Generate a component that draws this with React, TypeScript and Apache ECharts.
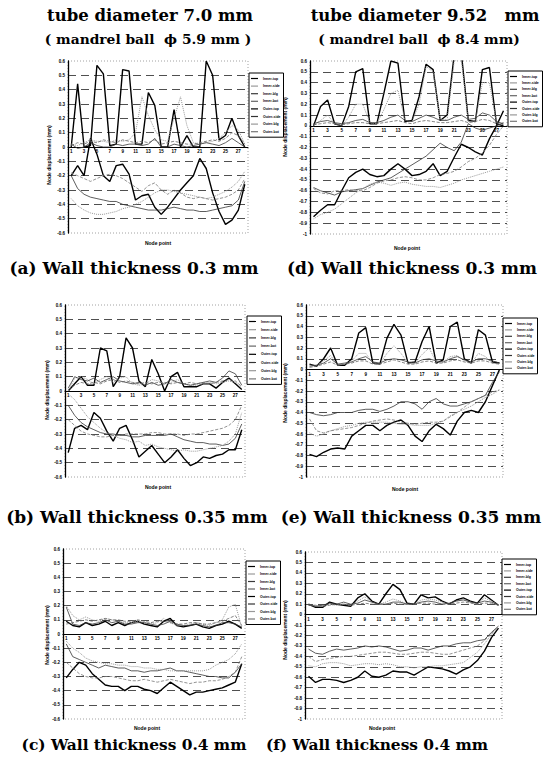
import React, { useEffect, useRef } from 'react';
import * as echarts from 'echarts';

// ---------- data ----------
const nodePoints = ['1', '2', '3', '4', '5', '6', '7', '8', '9', '10', '11', '12', '13', '14', '15', '16', '17', '18', '19', '20', '21', '22', '23', '24', '25', '26', '27', '28'];
const seriesNames = ['Inner-top', 'Inner-side', 'Inner-blg', 'Inner-bot', 'Outer-top', 'Outer-side', 'Outer-blg', 'Outer-bot'];

// (a) tube 7.0 mm, wall 0.3 mm
const a1 = [0, 0.44, 0.0, 0.01, 0.57, 0.51, 0.01, 0.02, 0.54, 0.53, 0.02, 0.02, 0.38, 0.29, 0.0, 0.0, 0.26, 0.0, 0.08, 0.0, 0.0, 0.6, 0.5, 0.05, 0.08, 0.2, 0.08, 0.0];
const a2 = [0.02, 0.01, 0.03, 0.05, 0.04, 0.04, 0.03, 0.05, 0.04, 0.05, 0.1, 0.35, 0.22, 0.12, 0.05, 0.04, 0.2, 0.35, 0.15, 0.03, 0.02, 0.03, 0.04, 0.06, 0.1, 0.15, 0.12, 0.02];
const a3 = [0.02, -0.01, 0.0, 0.03, 0.01, 0.0, 0.0, 0.02, 0.01, 0.02, 0.02, 0.01, 0.02, 0.06, 0.0, 0.0, 0.02, 0.01, 0.0, 0.01, 0.02, 0.03, 0.02, 0.01, 0.03, 0.06, 0.03, 0.0];
const a4 = [0.01, 0.03, 0.02, 0.04, 0.03, 0.05, 0.04, 0.03, 0.05, 0.04, 0.03, 0.04, 0.03, 0.05, 0.02, 0.03, 0.04, 0.03, 0.02, 0.02, 0.03, 0.04, 0.05, 0.04, 0.06, 0.1, 0.08, 0.02];
const a5 = [-0.2, -0.13, -0.2, 0.06, -0.05, -0.2, -0.24, -0.13, -0.12, -0.19, -0.37, -0.34, -0.33, -0.42, -0.47, -0.42, -0.36, -0.3, -0.25, -0.2, -0.08, -0.15, -0.32, -0.45, -0.54, -0.51, -0.44, -0.26];
const a6 = [-0.2, -0.29, -0.33, -0.35, -0.36, -0.37, -0.38, -0.38, -0.4, -0.41, -0.42, -0.43, -0.44, -0.44, -0.44, -0.43, -0.42, -0.43, -0.44, -0.44, -0.45, -0.45, -0.44, -0.43, -0.42, -0.41, -0.37, -0.24];
const a7 = [-0.36, -0.41, -0.44, -0.46, -0.47, -0.47, -0.46, -0.45, -0.43, -0.42, -0.4, -0.38, -0.35, -0.32, -0.3, -0.3, -0.31, -0.32, -0.33, -0.34, -0.35, -0.36, -0.35, -0.33, -0.31, -0.28, -0.24, -0.17];
const a8 = [-0.18, -0.2, -0.22, -0.24, -0.22, -0.2, -0.19, -0.2, -0.22, -0.25, -0.28, -0.31, -0.27, -0.25, -0.3, -0.33, -0.3, -0.32, -0.35, -0.36, -0.35, -0.36, -0.37, -0.36, -0.35, -0.33, -0.3, -0.22];

// (d) tube 9.52 mm, wall 0.3 mm
const d1 = [0.0, 0.18, 0.24, 0.02, 0.0, 0.18, 0.5, 0.53, 0.02, 0.02, 0.3, 0.6, 0.58, 0.04, 0.05, 0.27, 0.57, 0.52, 0.05, 0.1, 0.66, 0.68, 0.05, 0.04, 0.52, 0.54, 0.02, 0.0];
const d2 = [0.0, 0.05, 0.1, 0.02, 0.0, 0.08, 0.2, 0.2, 0.03, 0.02, 0.15, 0.3, 0.33, 0.05, 0.04, 0.2, 0.55, 0.5, 0.06, 0.06, 0.6, 0.62, 0.04, 0.04, 0.4, 0.4, 0.03, 0.01];
const d3 = [0.02, 0.04, 0.05, 0.03, 0.02, 0.03, 0.05, 0.06, 0.03, 0.03, 0.05, 0.08, 0.1, 0.05, 0.04, 0.07, 0.1, 0.08, 0.05, 0.05, 0.08, 0.1, 0.06, 0.07, 0.12, 0.1, 0.04, 0.02];
const d4 = [0.01, 0.02, 0.03, 0.02, 0.01, 0.02, 0.03, 0.03, 0.02, 0.02, 0.03, 0.04, 0.05, 0.03, 0.02, 0.04, 0.05, 0.04, 0.03, 0.03, 0.04, 0.05, 0.03, 0.04, 0.06, 0.05, 0.02, 0.01];
const d5 = [-0.84, -0.78, -0.73, -0.73, -0.6, -0.48, -0.43, -0.4, -0.45, -0.47, -0.46, -0.4, -0.35, -0.4, -0.46, -0.45, -0.42, -0.35, -0.46, -0.42, -0.29, -0.17, -0.2, -0.24, -0.27, -0.12, 0.0, 0.14];
const d6 = [-0.57, -0.6, -0.62, -0.64, -0.61, -0.6, -0.59, -0.58, -0.55, -0.52, -0.5, -0.48, -0.44, -0.4, -0.36, -0.32, -0.28, -0.22, -0.16, -0.2, -0.23, -0.15, 0.02, -0.02, -0.04, -0.02, 0.0, 0.03];
const d7 = [-0.86, -0.82, -0.8, -0.77, -0.72, -0.67, -0.62, -0.58, -0.54, -0.52, -0.53, -0.55, -0.53, -0.52, -0.54, -0.55, -0.56, -0.56, -0.57, -0.55, -0.53, -0.5, -0.48, -0.46, -0.44, -0.42, -0.4, -0.38];
const d8 = [-0.58, -0.62, -0.63, -0.6, -0.6, -0.59, -0.6, -0.6, -0.57, -0.53, -0.51, -0.5, -0.48, -0.47, -0.48, -0.5, -0.5, -0.48, -0.45, -0.44, -0.42, -0.38, -0.33, -0.3, -0.25, -0.18, -0.08, 0.0];

// (b) tube 7.0 mm, wall 0.35 mm
const b1 = [0.0, 0.05, 0.1, 0.04, 0.04, 0.3, 0.28, 0.03, 0.1, 0.37, 0.3, 0.07, 0.03, 0.22, 0.12, 0.0, 0.1, 0.13, 0.03, 0.03, 0.03, 0.05, 0.05, 0.02, 0.06, 0.09, 0.05, 0.01];
const b2 = [0.0, 0.09, 0.1, 0.08, 0.05, 0.08, 0.1, 0.06, 0.09, 0.1, 0.05, 0.04, 0.05, 0.08, 0.07, 0.05, 0.06, 0.08, 0.05, 0.04, 0.04, 0.05, 0.06, 0.05, 0.06, 0.07, 0.06, 0.02];
const b3 = [0.02, 0.1, 0.08, 0.07, 0.09, 0.06, 0.08, 0.1, 0.07, 0.06, 0.05, 0.06, 0.04, 0.06, 0.04, 0.05, 0.08, 0.06, 0.05, 0.04, 0.05, 0.06, 0.07, 0.06, 0.09, 0.14, 0.12, 0.04];
const b4 = [0.01, 0.04, 0.06, 0.05, 0.06, 0.05, 0.07, 0.08, 0.06, 0.07, 0.06, 0.05, 0.06, 0.05, 0.06, 0.06, 0.05, 0.06, 0.05, 0.06, 0.05, 0.06, 0.05, 0.06, 0.07, 0.08, 0.07, 0.03];
const b5 = [-0.43, -0.26, -0.24, -0.27, -0.15, -0.19, -0.28, -0.35, -0.26, -0.24, -0.34, -0.46, -0.42, -0.38, -0.44, -0.5, -0.46, -0.41, -0.47, -0.52, -0.5, -0.46, -0.47, -0.45, -0.44, -0.41, -0.41, -0.27];
const b6 = [-0.1, -0.17, -0.22, -0.25, -0.27, -0.29, -0.3, -0.3, -0.31, -0.31, -0.32, -0.32, -0.31, -0.31, -0.31, -0.31, -0.3, -0.32, -0.34, -0.35, -0.36, -0.36, -0.37, -0.37, -0.38, -0.37, -0.33, -0.23];
const b7 = [-0.02, -0.06, -0.12, -0.18, -0.22, -0.26, -0.29, -0.31, -0.33, -0.34, -0.36, -0.35, -0.38, -0.37, -0.39, -0.4, -0.41, -0.42, -0.41, -0.42, -0.42, -0.41, -0.4, -0.39, -0.38, -0.35, -0.3, -0.15];
const b8 = [-0.2, -0.24, -0.28, -0.3, -0.31, -0.32, -0.32, -0.31, -0.31, -0.3, -0.3, -0.3, -0.3, -0.29, -0.29, -0.3, -0.3, -0.3, -0.31, -0.3, -0.3, -0.29, -0.28, -0.27, -0.26, -0.24, -0.2, -0.1];

// (e) tube 9.52 mm, wall 0.35 mm
const e1 = [0.05, 0.03, 0.1, 0.2, 0.04, 0.04, 0.1, 0.34, 0.39, 0.06, 0.05, 0.29, 0.42, 0.32, 0.06, 0.07, 0.26, 0.4, 0.06, 0.09, 0.4, 0.44, 0.1, 0.06, 0.37, 0.32, 0.07, 0.06];
const e2 = [0.04, 0.04, 0.08, 0.13, 0.04, 0.05, 0.08, 0.15, 0.15, 0.06, 0.05, 0.15, 0.22, 0.15, 0.06, 0.06, 0.14, 0.2, 0.07, 0.07, 0.12, 0.13, 0.08, 0.06, 0.15, 0.12, 0.06, 0.05];
const e3 = [0.03, 0.04, 0.06, 0.1, 0.05, 0.06, 0.07, 0.1, 0.12, 0.07, 0.06, 0.09, 0.1, 0.09, 0.07, 0.06, 0.09, 0.1, 0.08, 0.07, 0.1, 0.12, 0.09, 0.07, 0.1, 0.1, 0.08, 0.06];
const e4 = [0.02, 0.03, 0.05, 0.07, 0.04, 0.05, 0.06, 0.08, 0.08, 0.05, 0.05, 0.07, 0.09, 0.07, 0.05, 0.05, 0.07, 0.08, 0.06, 0.06, 0.08, 0.09, 0.07, 0.06, 0.08, 0.08, 0.06, 0.05];
const e5 = [-0.79, -0.81, -0.77, -0.74, -0.73, -0.74, -0.62, -0.57, -0.52, -0.52, -0.57, -0.52, -0.49, -0.47, -0.52, -0.62, -0.67, -0.57, -0.51, -0.55, -0.61, -0.48, -0.4, -0.38, -0.4, -0.3, -0.15, 0.0];
const e6 = [-0.4, -0.42, -0.43, -0.42, -0.4, -0.4, -0.4, -0.38, -0.37, -0.37, -0.39, -0.37, -0.34, -0.3, -0.3, -0.32, -0.37, -0.3, -0.27, -0.32, -0.34, -0.34, -0.32, -0.3, -0.27, -0.24, -0.12, -0.02];
const e7 = [-0.59, -0.62, -0.6, -0.57, -0.55, -0.53, -0.52, -0.5, -0.49, -0.49, -0.49, -0.49, -0.5, -0.51, -0.51, -0.52, -0.52, -0.52, -0.5, -0.48, -0.43, -0.4, -0.37, -0.34, -0.3, -0.26, -0.23, -0.19];
const e8 = [-0.46, -0.57, -0.59, -0.57, -0.56, -0.55, -0.54, -0.52, -0.5, -0.48, -0.47, -0.46, -0.47, -0.49, -0.5, -0.51, -0.5, -0.49, -0.49, -0.48, -0.44, -0.4, -0.35, -0.3, -0.27, -0.24, -0.21, -0.19];

// (c) tube 7.0 mm, wall 0.4 mm
const c1 = [0.09, 0.06, 0.05, 0.08, 0.06, 0.07, 0.09, 0.06, 0.08, 0.06, 0.08, 0.09, 0.07, 0.06, 0.05, 0.09, 0.11, 0.06, 0.05, 0.06, 0.07, 0.05, 0.04, 0.06, 0.07, 0.09, 0.07, 0.04];
const c2 = [0.2, 0.13, 0.1, 0.12, 0.1, 0.09, 0.11, 0.1, 0.09, 0.08, 0.08, 0.09, 0.08, 0.07, 0.08, 0.11, 0.08, 0.06, 0.06, 0.07, 0.08, 0.07, 0.06, 0.08, 0.1, 0.19, 0.21, 0.05];
const c3 = [0.19, 0.07, 0.06, 0.08, 0.07, 0.08, 0.1, 0.08, 0.09, 0.07, 0.07, 0.08, 0.08, 0.07, 0.06, 0.07, 0.09, 0.07, 0.06, 0.06, 0.07, 0.06, 0.05, 0.06, 0.08, 0.08, 0.07, 0.05];
const c4 = [0.07, 0.08, 0.09, 0.1, 0.09, 0.1, 0.11, 0.1, 0.1, 0.09, 0.09, 0.1, 0.09, 0.08, 0.09, 0.09, 0.08, 0.07, 0.07, 0.08, 0.08, 0.07, 0.07, 0.08, 0.09, 0.11, 0.13, 0.06];
const c5 = [-0.31, -0.25, -0.2, -0.22, -0.28, -0.32, -0.36, -0.37, -0.37, -0.4, -0.37, -0.37, -0.39, -0.4, -0.42, -0.38, -0.34, -0.37, -0.4, -0.43, -0.41, -0.41, -0.4, -0.39, -0.38, -0.36, -0.34, -0.21];
const c6 = [-0.07, -0.16, -0.18, -0.2, -0.22, -0.24, -0.22, -0.23, -0.24, -0.24, -0.26, -0.26, -0.27, -0.26, -0.26, -0.25, -0.24, -0.26, -0.26, -0.27, -0.28, -0.29, -0.3, -0.3, -0.31, -0.31, -0.27, -0.21];
const c7 = [-0.05, -0.1, -0.13, -0.17, -0.19, -0.2, -0.21, -0.21, -0.22, -0.22, -0.23, -0.23, -0.24, -0.24, -0.25, -0.25, -0.26, -0.26, -0.26, -0.26, -0.26, -0.26, -0.25, -0.22, -0.2, -0.18, -0.14, -0.07];
const c8 = [-0.2, -0.24, -0.28, -0.3, -0.31, -0.31, -0.3, -0.3, -0.31, -0.32, -0.33, -0.33, -0.32, -0.33, -0.34, -0.33, -0.32, -0.33, -0.34, -0.35, -0.34, -0.34, -0.33, -0.33, -0.32, -0.3, -0.27, -0.16];

// (f) tube 9.52 mm, wall 0.4 mm
const f1 = [0.1, 0.07, 0.07, 0.12, 0.1, 0.09, 0.08, 0.16, 0.2, 0.13, 0.1, 0.2, 0.29, 0.24, 0.11, 0.1, 0.19, 0.16, 0.17, 0.13, 0.1, 0.14, 0.16, 0.13, 0.11, 0.19, 0.14, 0.09];
const f2 = [0.1, 0.08, 0.08, 0.1, 0.09, 0.1, 0.09, 0.13, 0.17, 0.12, 0.1, 0.12, 0.15, 0.13, 0.1, 0.1, 0.14, 0.15, 0.14, 0.12, 0.1, 0.13, 0.15, 0.12, 0.1, 0.16, 0.13, 0.09];
const f3 = [0.09, 0.08, 0.09, 0.11, 0.1, 0.12, 0.1, 0.11, 0.14, 0.12, 0.1, 0.1, 0.12, 0.12, 0.1, 0.1, 0.12, 0.13, 0.12, 0.1, 0.11, 0.13, 0.14, 0.12, 0.11, 0.13, 0.12, 0.09];
const f4 = [0.09, 0.09, 0.08, 0.09, 0.1, 0.1, 0.09, 0.1, 0.11, 0.1, 0.1, 0.1, 0.11, 0.1, 0.1, 0.1, 0.11, 0.11, 0.1, 0.1, 0.1, 0.11, 0.12, 0.11, 0.1, 0.11, 0.11, 0.09];
const f5 = [-0.59, -0.65, -0.62, -0.62, -0.63, -0.65, -0.63, -0.6, -0.54, -0.59, -0.6, -0.58, -0.54, -0.55, -0.55, -0.58, -0.54, -0.5, -0.51, -0.52, -0.54, -0.57, -0.53, -0.5, -0.44, -0.35, -0.22, -0.13];
const f6 = [-0.33, -0.37, -0.38, -0.35, -0.33, -0.34, -0.33, -0.32, -0.3, -0.31, -0.3, -0.31, -0.33, -0.35, -0.34, -0.32, -0.32, -0.34, -0.32, -0.3, -0.3, -0.28, -0.27, -0.27, -0.25, -0.24, -0.17, -0.11];
const f7 = [-0.49, -0.5, -0.47, -0.46, -0.46, -0.47, -0.49, -0.48, -0.47, -0.47, -0.48, -0.47, -0.48, -0.5, -0.5, -0.51, -0.5, -0.5, -0.49, -0.49, -0.48, -0.47, -0.46, -0.41, -0.36, -0.28, -0.19, -0.11];
const f8 = [-0.4, -0.45, -0.43, -0.42, -0.41, -0.4, -0.4, -0.39, -0.38, -0.37, -0.36, -0.36, -0.37, -0.38, -0.38, -0.37, -0.36, -0.36, -0.37, -0.38, -0.38, -0.36, -0.34, -0.32, -0.3, -0.25, -0.18, -0.12];

const headerLeft = ['tube diameter 7.0 mm', '( mandrel ball  ϕ 5.9 mm )'];
const headerRight = ['tube diameter 9.52   mm', '( mandrel ball  ϕ 8.4 mm)'];
const captions = ['(a) Wall thickness 0.3 mm', '(d) Wall thickness 0.3 mm', '(b) Wall thickness 0.35 mm', '(e) Wall thickness 0.35 mm', '(c) Wall thickness 0.4 mm', '(f) Wall thickness 0.4 mm'];
const yTitle = 'Node displacement (mm)';
const xTitle = 'Node point';

// ---------- layout ----------
const panels = [
  { data: [a1, a2, a3, a4, a5, a6, a7, a8], min: -0.6, max: 0.6, g: { left: 68, top: 61, width: 180, height: 172 }, lg: { left: 249, top: 73, gap: 2.6 }, yt: [49, 155], xt: [158, 243], cap: [134, 268, 17] },
  { data: [d1, d2, d3, d4, d5, d6, d7, d8], min: -1, max: 0.6, g: { left: 310, top: 61, width: 197, height: 173 }, lg: { left: 508, top: 71, gap: 1.4 }, yt: [285, 127], xt: [407, 248], cap: [412, 268, 17] },
  { data: [b1, b2, b3, b4, b5, b6, b7, b8], min: -0.6, max: 0.6, g: { left: 65, top: 305, width: 180, height: 172 }, lg: { left: 247, top: 316, gap: 3.2 }, yt: [47, 390], xt: [158, 487], cap: [137, 517, 17] },
  { data: [e1, e2, e3, e4, e5, e6, e7, e8], min: -1, max: 0.6, g: { left: 306, top: 305, width: 197, height: 172 }, lg: { left: 503, top: 318, gap: 1.4 }, yt: [285, 393], xt: [405, 489], cap: [411, 517, 17] },
  { data: [c1, c2, c3, c4, c5, c6, c7, c8], min: -0.6, max: 0.6, g: { left: 63, top: 549, width: 182, height: 170 }, lg: { left: 246, top: 561, gap: 2.5 }, yt: [47, 635], xt: [147, 728], cap: [134, 745, 15.4] },
  { data: [f1, f2, f3, f4, f5, f6, f7, f8], min: -1, max: 0.6, g: { left: 305, top: 552, width: 197, height: 167 }, lg: { left: 502, top: 559, gap: 1.4 }, yt: [285, 630], xt: [382, 728], cap: [377, 745, 15.4] },
];

const lineStyles = [
  { color: '#000', width: 1.4, type: 'solid' },
  { color: '#9a9a9a', width: 1, type: 'dotted' },
  { color: '#3a3a3a', width: 0.8, type: 'solid' },
  { color: '#666', width: 0.8, type: 'dashed' },
  { color: '#000', width: 1.4, type: 'solid' },
  { color: '#333', width: 0.8, type: 'solid' },
  { color: '#999', width: 1, type: 'dotted' },
  { color: '#777', width: 0.8, type: 'dashed' },
];

const SANS = 'Liberation Sans, Arial, sans-serif';
const SERIF = 'DejaVu Serif, serif';

export default function App() {
  const ref = useRef<HTMLDivElement>(null);
  useEffect(() => {
    if (!ref.current) return;
    const chart = echarts.init(ref.current, undefined, { renderer: 'svg' });
    const grid: any[] = [];
    const xAxis: any[] = [];
    const yAxis: any[] = [];
    const series: any[] = [];
    const legend: any[] = [];
    const graphic: any[] = [];

    const txt = (text: string, x: number, y: number, size: number, family: string, rot = 0) => ({
      type: 'text', x, y, rotation: rot, silent: true,
      style: { text, fontSize: size, fontWeight: 'bold', fontFamily: family, fill: '#000', textAlign: 'center', textVerticalAlign: 'middle' },
    });

    graphic.push(txt(headerLeft[0], 150, 15, 16.5, SERIF));
    graphic.push(txt(headerLeft[1], 148, 39, 13.8, SERIF));
    graphic.push(txt(headerRight[0], 425, 15, 16.5, SERIF));
    graphic.push(txt(headerRight[1], 419, 39, 13.8, SERIF));

    panels.forEach((p, i) => {
      const zeroFromBottom = p.g.height * (0 - p.min) / (p.max - p.min);
      grid.push({ ...p.g, containLabel: false });
      xAxis.push({
        type: 'category', gridIndex: i, data: nodePoints, boundaryGap: true,
        position: 'bottom', offset: -zeroFromBottom,
        axisLine: { onZero: false, lineStyle: { color: '#000', width: 1 } },
        axisTick: { show: false },
        axisLabel: { interval: 1, fontSize: 4.5, fontWeight: 'bold', color: '#000', margin: 2, fontFamily: SANS },
        splitLine: { show: false },
      });
      yAxis.push({
        type: 'value', gridIndex: i, min: p.min, max: p.max, interval: 0.1,
        axisLine: { show: true, lineStyle: { color: '#000', width: 1.3 } },
        axisTick: { show: false },
        axisLabel: {
          fontSize: 4.5, fontWeight: 'bold', color: '#000', margin: 3, fontFamily: SANS,
          formatter: (v: number) => String(Math.round(v * 10) / 10),
        },
        splitLine: { show: true, showMinLine: false, showMaxLine: false, lineStyle: { color: '#222', width: 0.8, type: [8, 5] } },
      });
      p.data.forEach((arr, k) => {
        series.push({
          type: 'line', name: seriesNames[k], xAxisIndex: i, yAxisIndex: i, data: arr,
          symbol: 'none', lineStyle: lineStyles[k], itemStyle: { color: lineStyles[k].color },
          clip: true, z: k < 4 ? 3 : 2,
        });
      });
      legend.push({
        orient: 'vertical', left: p.lg.left, top: p.lg.top, data: seriesNames, selectedMode: false,
        icon: 'rect', itemWidth: 7, itemHeight: 1.2, itemGap: p.lg.gap, padding: [3, 3, 3, 2],
        borderColor: '#000', borderWidth: 1, backgroundColor: '#fff',
        textStyle: { fontSize: 3.5, fontWeight: 'bold', color: '#000', fontFamily: SANS, lineHeight: 5 },
      });
      graphic.push({
        type: 'rect', silent: true, z: -1,
        shape: { x: p.g.left, y: p.g.top, width: p.g.width, height: p.g.height },
        style: { fill: 'none', stroke: '#8a8a8a', lineWidth: 0.8, lineDash: [1, 2] },
      });
      graphic.push(txt(yTitle, p.yt[0], p.yt[1], 5, SANS, Math.PI / 2));
      graphic.push(txt(xTitle, p.xt[0], p.xt[1], 5, SANS));
      graphic.push(txt(captions[i], p.cap[0], p.cap[1], p.cap[2], SERIF));
    });

    chart.setOption({
      animation: false,
      backgroundColor: '#fff',
      grid, xAxis, yAxis, series, legend, graphic,
    });
    return () => chart.dispose();
  }, []);
  return <div ref={ref} style={{ position: 'absolute', left: 0, top: 0, width: 550, height: 767 }} />;
}
